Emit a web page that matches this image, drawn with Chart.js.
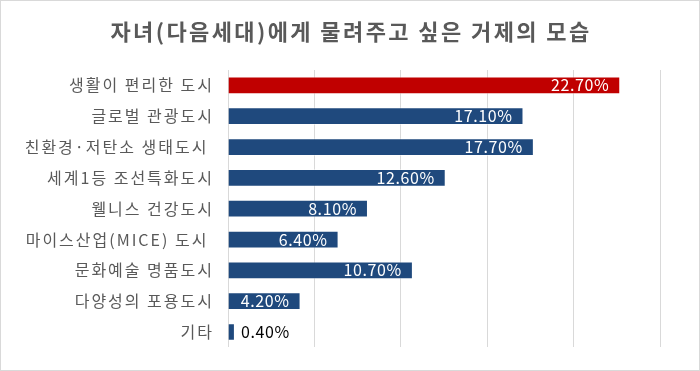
<!DOCTYPE html>
<html>
<head>
<meta charset="utf-8">
<script src="https://cdn.jsdelivr.net/npm/chart.js@4.4.1/dist/chart.umd.min.js"></script>
<style>
html,body{margin:0;padding:0;background:#fff;}
#wrap{width:700px;height:371px;position:relative;}
</style>
</head>
<body>
<div id="wrap"><canvas id="c" width="700" height="371"></canvas></div>
<script>
const titleText = '자녀(다음세대)에게 물려주고 싶은 거제의 모습';
const categories = ['생활이 편리한 도시','글로벌 관광도시','친환경·저탄소 생태도시 ','세계1등 조선특화도시','웰니스 건강도시','마이스산업(MICE) 도시 ','문화예술 명품도시','다양성의 포용도시','기타'];
const values = [22.7, 17.1, 17.7, 12.6, 8.1, 6.4, 10.7, 4.2, 0.4];
const barColors = ['#C00000','#1F497D','#1F497D','#1F497D','#1F497D','#1F497D','#1F497D','#1F497D','#1F497D'];
const xTicks = [0, 5, 10, 15, 20, 25];

const FONT = '"Noto Sans CJK KR", "Noto Sans", sans-serif';

const labelPlugin = {
  id: 'valueLabels',
  beforeDraw(chart) {
    chart.ctx.letterSpacing = '2px';
  },
  afterDatasetsDraw(chart) {
    const ctx = chart.ctx;
    const meta = chart.getDatasetMeta(0);
    ctx.save();
    ctx.letterSpacing = '0.6px';
    ctx.font = '16px ' + FONT;
    ctx.textBaseline = 'middle';
    meta.data.forEach((bar, i) => {
      const txt = values[i].toFixed(2) + '%';
      const w = ctx.measureText(txt).width;
      const len = bar.x - bar.base;
      if (len > w + 16) {
        ctx.fillStyle = '#ffffff';
        ctx.textAlign = 'right';
        ctx.fillText(txt, bar.x - 11, bar.y);
      } else {
        ctx.fillStyle = '#000000';
        ctx.textAlign = 'left';
        ctx.fillText(txt, bar.x + 6, bar.y);
      }
    });
    ctx.restore();
  },
  afterDraw(chart) {
    const ctx = chart.ctx;
    ctx.save();
    ctx.letterSpacing = '2.4px';
    ctx.font = 'bold 22px ' + FONT;
    ctx.fillStyle = '#595959';
    ctx.textAlign = 'center';
    ctx.textBaseline = 'middle';
    ctx.fillText(titleText, chart.width / 2 + 1, 32);
    ctx.restore();
    ctx.save();
    ctx.letterSpacing = '0px';
    ctx.strokeStyle = '#d9d9d9';
    ctx.lineWidth = 1;
    ctx.strokeRect(0.5, 0.5, chart.width - 1, chart.height - 1);
    ctx.restore();
    ctx.letterSpacing = '0px';
  }
};

new Chart(document.getElementById('c'), {
  type: 'bar',
  data: {
    labels: categories,
    datasets: [{
      data: values,
      backgroundColor: barColors,
      borderColor: 'rgba(255,255,255,0.45)',
      borderWidth: 1,
      barPercentage: 0.575,
      categoryPercentage: 1.0
    }]
  },
  options: {
    indexAxis: 'y',
    responsive: false,
    animation: false,
    devicePixelRatio: 1,
    layout: { padding: { left: 0, right: 40, top: 70, bottom: 19 } },
    plugins: {
      legend: { display: false },
      tooltip: { enabled: false },
      title: { display: false }
    },
    scales: {
      x: {
        min: 0, max: 25,
        afterBuildTicks(scale) { scale.ticks = xTicks.map(v => ({ value: v })); },
        ticks: { display: false },
        grid: { color: '#d9d9d9', lineWidth: 1, drawTicks: false },
        border: { display: false },
        afterFit(scale) { scale.height = 0; }
      },
      y: {
        ticks: {
          color: '#595959',
          font: { family: FONT, size: 16 },
          padding: 14
        },
        grid: { display: false, drawTicks: false },
        border: { display: false },
        afterFit(scale) { scale.width = 228; }
      }
    }
  },
  plugins: [labelPlugin]
});
</script>
</body>
</html>
